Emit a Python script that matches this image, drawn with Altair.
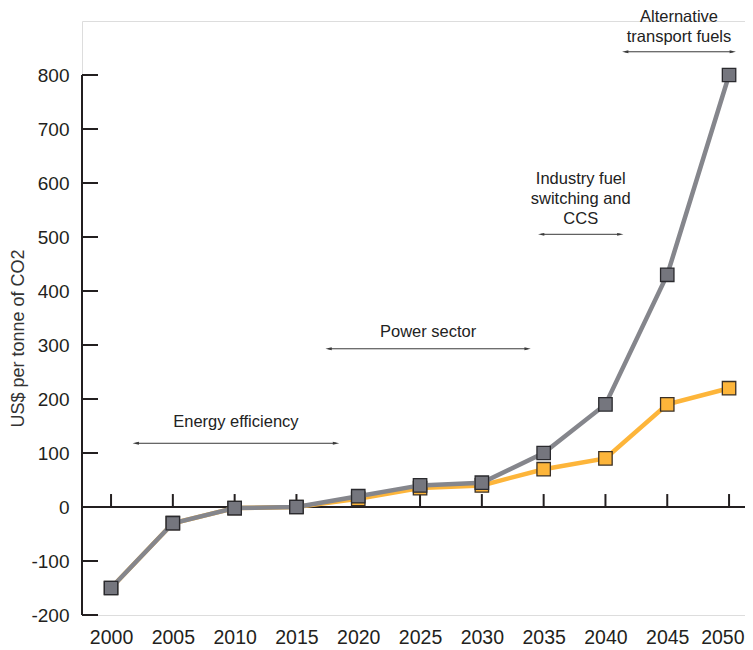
import altair as alt
import pandas as pd

years = [2000, 2005, 2010, 2015, 2020, 2025, 2030, 2035, 2040, 2045, 2050]
gray_vals = [-150, -30, -2, 0, 20, 40, 45, 100, 190, 430, 800]
orange_vals = [-150, -30, -2, 0, 15, 35, 40, 70, 90, 190, 220]
y_ticks = [-200, -100, 0, 100, 200, 300, 400, 500, 600, 700, 800]

ann_labels = [["Energy efficiency"], ["Power sector"],
              ["Industry fuel", "switching and", "CCS"],
              ["Alternative", "transport fuels"]]
ann_start = [2002.0, 2017.6, 2034.8, 2041.6]
ann_end = [2018.2, 2033.7, 2041.2, 2050.3]
ann_y = [118, 293, 505, 843]
ann_text_y = [158, 325, 607, 908]

FONT = "Liberation Sans"
GRAY_LINE = "#85868c"
GRAY_FILL = "#75767e"
ORANGE = "#fdb53a"
DARK = "#231f20"

xs = alt.Scale(domain=[1997.65, 2051.29], nice=False, zero=False)
ys = alt.Scale(domain=[-200, 900], nice=False, zero=False)

df = pd.DataFrame({
    "year": years * 2,
    "value": orange_vals + gray_vals,
    "series": ["orange"] * len(years) + ["gray"] * len(years),
})
df_o = df[df.series == "orange"]
df_g = df[df.series == "gray"]

ytick_df = pd.DataFrame({"v": y_ticks})
xtick_df = pd.DataFrame({"year": years})

base_x = alt.X("year:Q", scale=xs,
               axis=alt.Axis(values=years, format="d", domain=False, ticks=False,
                             grid=False, labelPadding=13, labelFontSize=19.5,
                             labelColor=DARK, labelFont=FONT, title=None,
                             labelOverlap=False, labelBound=False,
                             labelFlush=20, labelFlushOffset=15))
base_y = alt.Y("value:Q", scale=ys,
               axis=alt.Axis(values=y_ticks, domain=False, ticks=False, grid=False,
                             labelExpr="'' + datum.value",
                             labelPadding=13, labelFontSize=19, labelColor=DARK,
                             labelFont=FONT, title="US$ per tonne of CO2",
                             titleFontSize=18, titleFontWeight="normal",
                             titleColor="#333333", titleFont=FONT,
                             titleBaseline="middle", titleAngle=270,
                             titleX=-64, titleY=317))

# Y axis line and inward ticks
y_domain = alt.Chart(pd.DataFrame({"a": [-200], "b": [800]})).mark_rule(
    color=DARK, strokeWidth=2).encode(
    x=alt.value(0), y=alt.Y("a:Q", scale=ys), y2="b:Q")
y_tick_marks = alt.Chart(ytick_df).mark_rule(color=DARK, strokeWidth=2).encode(
    x=alt.value(0), x2=alt.value(16), y=alt.Y("v:Q", scale=ys))

# Zero line with upward ticks
zero_line = alt.Chart(pd.DataFrame({"z": [0]})).mark_rule(
    color=DARK, strokeWidth=2).encode(
    y=alt.Y("z:Q", scale=ys), x=alt.value(0), x2=alt.value(663))
x_tick_marks = alt.Chart(xtick_df).mark_rule(color=DARK, strokeWidth=2).encode(
    x=alt.X("year:Q", scale=xs),
    y=alt.Y("y0:Q", scale=ys), y2="y1:Q").transform_calculate(y0="0", y1="24")

line_o = alt.Chart(df_o).mark_line(color=ORANGE, strokeWidth=4.5).encode(
    x=base_x, y=base_y)
pts_o = alt.Chart(df_o).mark_point(shape="square", filled=True, size=180,
                                    color=ORANGE, stroke="#3a3026",
                                    strokeWidth=1.3, opacity=1, clip=False).encode(
    x=alt.X("year:Q", scale=xs), y=alt.Y("value:Q", scale=ys))
line_g = alt.Chart(df_g).mark_line(color=GRAY_LINE, strokeWidth=4.5).encode(
    x=alt.X("year:Q", scale=xs), y=alt.Y("value:Q", scale=ys))
pts_g = alt.Chart(df_g).mark_point(shape="square", filled=True, size=180,
                                    color=GRAY_FILL, stroke="#2a2a2e",
                                    strokeWidth=1.3, opacity=1, clip=False).encode(
    x=alt.X("year:Q", scale=xs), y=alt.Y("value:Q", scale=ys))

ann_df = pd.DataFrame({
    "x1": ann_start, "x2": ann_end, "y": ann_y,
    "xm": [(a + b) / 2 for a, b in zip(ann_start, ann_end)],
    "ty": ann_text_y,
    "label": ann_labels,
})

arrow_line = alt.Chart(ann_df).mark_rule(color="#3a3a3a", strokeWidth=1, clip=False).encode(
    x=alt.X("x1:Q", scale=xs), x2="x2:Q", y=alt.Y("y:Q", scale=ys))
head_left = alt.Chart(ann_df).mark_point(
    shape="M-1,0L1,-0.45L1,0.45Z", filled=True, size=40, color="#3a3a3a",
    opacity=1, clip=False).encode(
    x=alt.X("x1:Q", scale=xs), y=alt.Y("y:Q", scale=ys))
head_right = alt.Chart(ann_df).mark_point(
    shape="M1,0L-1,-0.45L-1,0.45Z", filled=True, size=40, color="#3a3a3a",
    opacity=1, clip=False).encode(
    x=alt.X("x2:Q", scale=xs), y=alt.Y("y:Q", scale=ys))
ann_text = alt.Chart(ann_df).mark_text(
    font=FONT, fontSize=16.5, color="#222222", align="center",
    baseline="middle", lineHeight=20, clip=False).encode(
    x=alt.X("xm:Q", scale=xs), y=alt.Y("ty:Q", scale=ys), text="label")

chart = alt.layer(
    zero_line, x_tick_marks, y_domain, y_tick_marks,
    line_o, pts_o, line_g, pts_g,
    arrow_line, head_left, head_right, ann_text,
).properties(
    width=663, height=594,
    padding={"left": 74, "top": 13, "right": 0, "bottom": 33},
    autosize=alt.AutoSizeParams(type="none"),
).configure_view(stroke=None).configure(background="white")

chart.save("out.html", embed_options={"renderer": "svg", "actions": False})
